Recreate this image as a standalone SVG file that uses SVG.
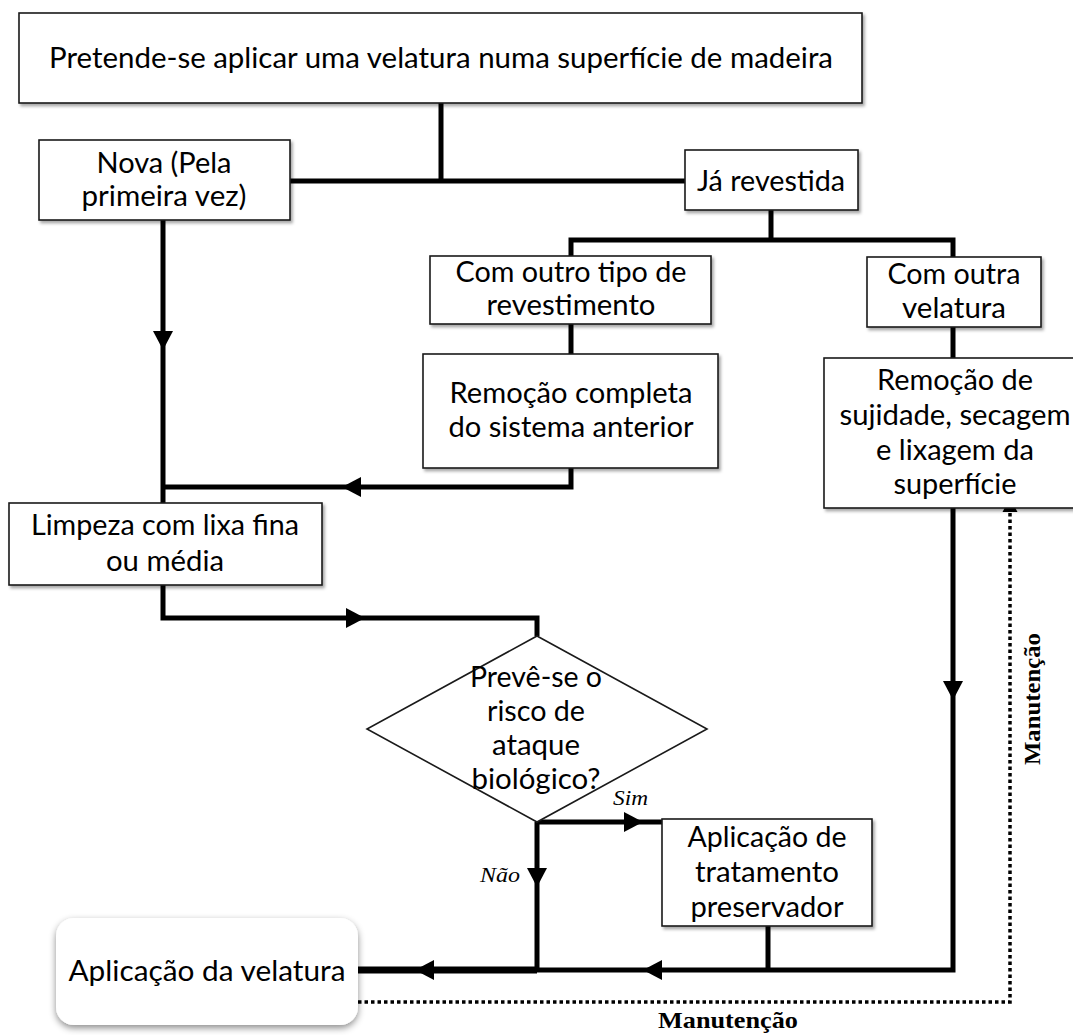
<svg xmlns="http://www.w3.org/2000/svg" xmlns:xlink="http://www.w3.org/1999/xlink" width="1073" height="1035" viewBox="0 0 1073 1035">
<defs>
<filter id="sh" x="-5%" y="-5%" width="115%" height="130%"><feDropShadow dx="2" dy="2.5" stdDeviation="1.5" flood-color="#000" flood-opacity="0.35"/></filter>
<filter id="sh2" x="-10%" y="-10%" width="125%" height="135%"><feDropShadow dx="0" dy="3" stdDeviation="3.5" flood-color="#000" flood-opacity="0.45"/></filter>
<path id="ar" d="M0,0 L-19,-10 L-19,10 Z" fill="#000"/>
<path id="ad" d="M0,0 L-14,-7.5 L-14,7.5 Z" fill="#000"/>
</defs>
<style>
.b{fill:#fff;stroke:#1a1a1a;stroke-width:1.6;filter:url(#sh)}
.t{font-family:Lato,"Open Sans",sans-serif;font-size:28.5px;fill:#000;text-anchor:middle}
.c{fill:none;stroke:#000;stroke-width:5;stroke-linejoin:miter}
.d{fill:none;stroke:#000;stroke-width:3.5;stroke-dasharray:3.5 3}
.i{font-family:"Liberation Serif",serif;font-style:italic;font-size:21px;fill:#000}
.m{font-family:"Liberation Serif",serif;font-weight:bold;font-size:23px;fill:#000;text-anchor:middle}
</style>
<rect width="1073" height="1035" fill="#fff"/>

<g id="connectors">
<polyline class="c" points="441,103 441,181"/>
<polyline class="c" points="290,181 685,181"/>
<polyline class="c" points="771,210 771,240"/>
<polyline class="c" points="571,256 571,240 953,240 953,257"/>
<polyline class="c" points="571,324 571,354"/>
<polyline class="c" points="953,327 953,358"/>
<polyline class="c" points="571,468 571,487 163,487"/>
<polyline class="c" points="163,220 163,503"/>
<polyline class="c" points="163,585 163,618 537,618 537,636"/>
<polyline class="c" points="537,822 662,822"/>
<polyline class="c" points="537,822 537,970"/>
<polyline class="c" points="768,926 768,970"/>
<polyline class="c" points="953,508 953,970 537,970"/>
<polyline class="c" style="stroke-width:7" points="537,970 358,970"/>
<polyline class="d" points="358,1002 1010,1002 1010,510"/>
<use xlink:href="#ar" transform="translate(163,350) rotate(90)"/>
<use xlink:href="#ar" transform="translate(342,487) rotate(180)"/>
<use xlink:href="#ar" transform="translate(365,618)"/>
<use xlink:href="#ar" transform="translate(643,822)"/>
<use xlink:href="#ar" transform="translate(537,887) rotate(90)"/>
<use xlink:href="#ar" transform="translate(953,700) rotate(90)"/>
<use xlink:href="#ar" transform="translate(643,970) rotate(180)"/>
<use xlink:href="#ar" transform="translate(415,970) rotate(180)"/>
<use xlink:href="#ad" transform="translate(1010,498) rotate(-90)"/>
<text class="i" x="613" y="805" textLength="35" lengthAdjust="spacingAndGlyphs">Sim</text>
<text class="i" x="480" y="882" textLength="40" lengthAdjust="spacingAndGlyphs">Não</text>
<text class="m" x="728" y="1028" textLength="140" lengthAdjust="spacingAndGlyphs">Manutenção</text>
<text class="m" x="0" y="0" transform="translate(1040,699) rotate(-90)" textLength="132" lengthAdjust="spacingAndGlyphs">Manutenção</text>
</g>

<g id="n-inicio">
<rect class="b" x="19" y="13" width="843" height="90"/>
<text class="t" x="441" y="68" textLength="784" lengthAdjust="spacingAndGlyphs">Pretende-se aplicar uma velatura numa superfície de madeira</text>
</g>

<g id="n-nova">
<rect class="b" x="39" y="140" width="251" height="80"/>
<text class="t" x="164" y="173" textLength="135" lengthAdjust="spacingAndGlyphs">Nova (Pela</text>
<text class="t" x="164" y="206" textLength="165" lengthAdjust="spacingAndGlyphs">primeira vez)</text>
</g>

<g id="n-ja">
<rect class="b" x="685" y="150" width="173" height="60"/>
<text class="t" x="771" y="191" textLength="148" lengthAdjust="spacingAndGlyphs">Já revestida</text>
</g>

<g id="n-outro">
<rect class="b" x="430" y="256" width="281" height="68"/>
<text class="t" x="571" y="282" textLength="231" lengthAdjust="spacingAndGlyphs">Com outro tipo de</text>
<text class="t" x="571" y="315" textLength="169" lengthAdjust="spacingAndGlyphs">revestimento</text>
</g>

<g id="n-outra">
<rect class="b" x="867" y="257" width="174" height="70"/>
<text class="t" x="954" y="284" textLength="133" lengthAdjust="spacingAndGlyphs">Com outra</text>
<text class="t" x="954" y="318" textLength="104" lengthAdjust="spacingAndGlyphs">velatura</text>
</g>

<g id="n-remocao-completa">
<rect class="b" x="423" y="354" width="295" height="114"/>
<text class="t" x="571" y="403" textLength="243" lengthAdjust="spacingAndGlyphs">Remoção completa</text>
<text class="t" x="571" y="437" textLength="245" lengthAdjust="spacingAndGlyphs">do sistema anterior</text>
</g>

<g id="n-remocao-sujidade">
<rect class="b" x="824" y="358" width="260" height="150"/>
<text class="t" x="955" y="390" textLength="156" lengthAdjust="spacingAndGlyphs">Remoção de</text>
<text class="t" x="955" y="425" textLength="231" lengthAdjust="spacingAndGlyphs">sujidade, secagem</text>
<text class="t" x="955" y="460" textLength="158" lengthAdjust="spacingAndGlyphs">e lixagem da</text>
<text class="t" x="955" y="494" textLength="123" lengthAdjust="spacingAndGlyphs">superfície</text>
</g>

<g id="n-limpeza">
<rect class="b" x="9" y="503" width="313" height="82"/>
<text class="t" x="165" y="535" textLength="268" lengthAdjust="spacingAndGlyphs">Limpeza com lixa fina</text>
<text class="t" x="165" y="571" textLength="118" lengthAdjust="spacingAndGlyphs">ou média</text>
</g>

<g id="n-decisao">
<polygon points="537,636 707,729 537,822 367,729" fill="#fff" stroke="#1a1a1a" stroke-width="1.6"/>
<text class="t" x="536" y="687" textLength="132" lengthAdjust="spacingAndGlyphs">Prevê-se o</text>
<text class="t" x="536" y="721" textLength="98" lengthAdjust="spacingAndGlyphs">risco de</text>
<text class="t" x="536" y="755" textLength="88" lengthAdjust="spacingAndGlyphs">ataque</text>
<text class="t" x="536" y="789" textLength="129" lengthAdjust="spacingAndGlyphs">biológico?</text>
</g>

<g id="n-tratamento">
<rect class="b" x="662" y="819" width="210" height="107"/>
<text class="t" x="767" y="847" textLength="159" lengthAdjust="spacingAndGlyphs">Aplicação de</text>
<text class="t" x="767" y="882" textLength="144" lengthAdjust="spacingAndGlyphs">tratamento</text>
<text class="t" x="767" y="917" textLength="153" lengthAdjust="spacingAndGlyphs">preservador</text>
</g>

<g id="n-aplicacao">
<rect x="56" y="918" width="302" height="107" rx="18" ry="18" fill="#fff" filter="url(#sh2)"/>
<text class="t" x="207" y="981" textLength="277" lengthAdjust="spacingAndGlyphs">Aplicação da velatura</text>
</g>
</svg>
